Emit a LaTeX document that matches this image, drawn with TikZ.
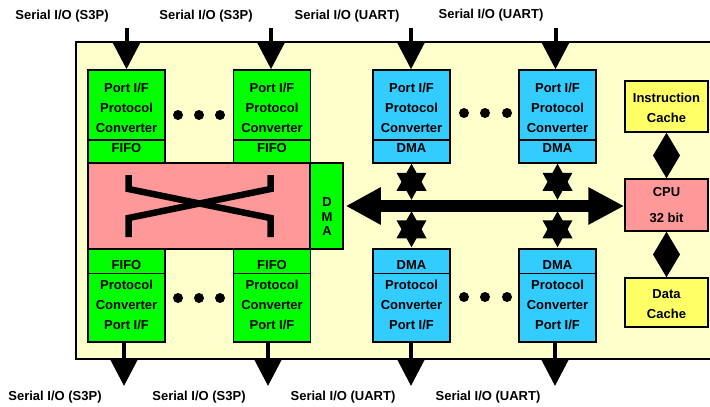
\documentclass[tikz,border=0pt]{standalone}
\usepackage{fontspec}
\setmainfont{Liberation Sans}
\usetikzlibrary{arrows.meta,calc}
\definecolor{panelbg}{RGB}{255,255,204}
\definecolor{portgreen}{RGB}{0,255,0}
\definecolor{portblue}{RGB}{51,204,255}
\definecolor{xbarpink}{RGB}{255,153,153}
\definecolor{cacheyellow}{RGB}{255,255,102}
\newcommand{\toplift}{\rule{0pt}{11.4pt}}
\begin{document}
\begin{tikzpicture}[x=1pt,y=-1pt,
  txt/.style={font=\bfseries\fontsize{13}{20}\selectfont},
  unit/.style={txt,draw,line width=1.5pt,inner sep=0pt,align=center},
  sport/.style={unit,fill=portgreen,minimum width=77pt,minimum height=93pt},
  uport/.style={unit,fill=portblue,minimum width=77pt,minimum height=93pt},
  cache/.style={unit,fill=cacheyellow,minimum width=83pt},
  divider/.style={line width=1.5pt},
  io/.style={txt,inner sep=0pt},
  ioarrow/.style={line width=4pt,-{Triangle[length=27pt,width=27pt]}},
  dots/.style={fill=black},
  xline/.style={line width=6.5pt},
  hexstar/.pic={
    \fill (0,-18) -- (15,9) -- (-15,9) -- cycle;
    \fill (0,18) -- (15,-9) -- (-15,-9) -- cycle;}
]
\useasboundingbox (0,0) rectangle (710,407);

% chip panel
\fill[panelbg] (76,42) rectangle (716,359);
\draw[line width=1.6pt] (716,42) -- (76,42) -- (76,359) -- (716,359);

% S3P ports (protocol converter with FIFO)
\node[sport] (sT1) at (126.5,116.5) {\toplift Port I/F\\Protocol\\Converter\\FIFO};
\node[sport] (sT2) at (272,116.5)   {\toplift Port I/F\\Protocol\\Converter\\FIFO};
\node[sport] (sB1) at (126.5,295.5) {FIFO\\Protocol\\Converter\\Port I/F};
\node[sport] (sB2) at (272,295.5)   {FIFO\\Protocol\\Converter\\Port I/F};

% UART ports (protocol converter with DMA)
\node[uport] (uT1) at (411.5,116.5) {\toplift Port I/F\\Protocol\\Converter\\DMA};
\node[uport] (uT2) at (557.5,116.5) {\toplift Port I/F\\Protocol\\Converter\\DMA};
\node[uport] (uB1) at (411.5,295.5) {DMA\\Protocol\\Converter\\Port I/F};
\node[uport] (uB2) at (557.5,295.5) {DMA\\Protocol\\Converter\\Port I/F};

% dividers between converter and FIFO/DMA
\foreach \p in {sT1,sT2,uT1,uT2}
  \draw[divider] ($(\p.south west)+(0,-24)$) -- ($(\p.south east)+(0,-24)$);
\foreach \p in {sB1,sB2,uB1,uB2}
  \draw[divider] ($(\p.north west)+(0,25)$) -- ($(\p.north east)+(0,25)$);

% crossbar and its DMA
\node[unit,fill=xbarpink,minimum width=222pt,minimum height=86pt] (xbar) at (199,206) {};
\node[unit,fill=portgreen,minimum width=33pt,minimum height=86pt] (xdma) at (326.5,206) {};
\node[txt,inner sep=0pt,align=center,font=\bfseries\fontsize{13}{14.5}\selectfont]
  (xdmatxt) at (327,217) {D\\M\\A};
\draw[xline] (128.5,175) -- (128.5,189) -- (270.5,218) -- (270.5,237);
\draw[xline] (270.5,175) -- (270.5,189) -- (128.5,218) -- (128.5,237);

% CPU and caches
\node[cache,minimum height=51pt] (icache) at (666.5,106.5)
  {\rule{0pt}{11.4pt}Instruction\\Cache};
\node[unit,fill=xbarpink,minimum width=83pt,minimum height=52pt,
      font=\bfseries\fontsize{13}{26}\selectfont] (cpu) at (666.5,205) {CPU\\32 bit};
\node[cache,minimum height=49pt] (dcache) at (666.5,302.5)
  {\rule{0pt}{12.4pt}Data\\Cache};

% ellipsis dots
\foreach \x in {178,199,220} {
  \fill[dots] (\x,115) circle (5);
  \fill[dots] (\x,298) circle (5);}
\foreach \x in {464,485,507} {
  \fill[dots] (\x,113) circle (5);
  \fill[dots] (\x,297) circle (5);}

% system bus
\draw[line width=12pt,{Triangle[length=35pt,width=35pt]}-{Triangle[length=36pt,width=35pt]}]
  ($(xdma.east)+(2,0)$) -- (xdma.east -| cpu.west);

% DMA-to-bus links
\pic at ($(uT1.south)+(0,18)$) {hexstar};
\pic at ($(uT2.south)+(0,18)$) {hexstar};
\pic at ($(uB1.north)+(0,-19)$) {hexstar};
\pic at ($(uB2.north)+(0,-19)$) {hexstar};

% cache links
\fill (icache.south) -- ($(icache.south)!0.5!(cpu.north)+(13.5,0)$) -- (cpu.north)
  -- ($(icache.south)!0.5!(cpu.north)+(-13.5,0)$) -- cycle;
\fill (cpu.south) -- ($(cpu.south)!0.5!(dcache.north)+(13.5,0)$) -- (dcache.north)
  -- ($(cpu.south)!0.5!(dcache.north)+(-13.5,0)$) -- cycle;

% serial inputs
\coordinate (inS1) at (126.5,28);
\coordinate (inS2) at (271,28);
\coordinate (inU1) at (411,28);
\coordinate (inU2) at (555.5,28);
\draw[ioarrow] (inS1) -- (sT1.north -| inS1);
\draw[ioarrow] (inS2) -- (sT2.north -| inS2);
\draw[ioarrow] (inU1) -- (uT1.north -| inU1);
\draw[ioarrow] (inU2) -- (uT2.north -| inU2);

% serial outputs
\coordinate (outS1) at (124,386);
\coordinate (outS2) at (268,386);
\coordinate (outU1) at (411,386);
\coordinate (outU2) at (555,386);
\draw[ioarrow] (sB1.south -| outS1) -- (outS1);
\draw[ioarrow] (sB2.south -| outS2) -- (outS2);
\draw[ioarrow] (uB1.south -| outU1) -- (outU1);
\draw[ioarrow] (uB2.south -| outU2) -- (outU2);

% port labels
\node[io] (lT1) at (62,16)  {Serial I/O (S3P)};
\node[io] (lT2) at (206,16) {Serial I/O (S3P)};
\node[io] (lT3) at (347,16) {Serial I/O (UART)};
\node[io] (lT4) at (491,15) {Serial I/O (UART)};
\node[io] (lB1) at (55,397)  {Serial I/O (S3P)};
\node[io] (lB2) at (199,397) {Serial I/O (S3P)};
\node[io] (lB3) at (343,397) {Serial I/O (UART)};
\node[io] (lB4) at (488,397) {Serial I/O (UART)};
\end{tikzpicture}
\end{document}
